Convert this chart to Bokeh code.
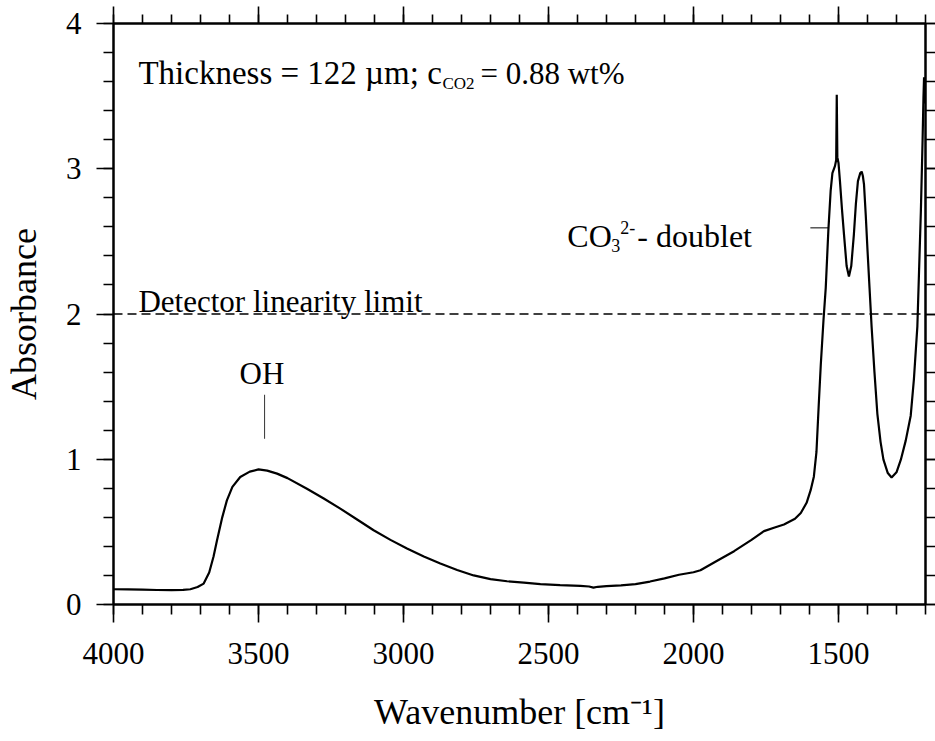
from bokeh.plotting import figure
from bokeh.models import (Range1d, LinearAxis, SingleIntervalTicker, Span, Label,
                          CustomJSTickFormatter)
from bokeh.embed import file_html
from bokeh.resources import INLINE

# FTIR absorbance spectrum (wavenumber in cm^-1, descending)
wavenumber = [4000, 3950, 3900, 3850, 3800, 3760, 3735, 3710, 3689, 3670,
              3655, 3643, 3625, 3609, 3590, 3563, 3530, 3500, 3470, 3436,
              3400, 3333, 3275, 3218, 3160, 3103, 3045, 2988, 2930, 2873,
              2815, 2758, 2700, 2643, 2585, 2528, 2460, 2390, 2360, 2345,
              2330, 2300, 2250, 2200, 2150, 2100, 2050, 2000, 1976, 1920,
              1860, 1800, 1757, 1720, 1688, 1650, 1630, 1610, 1596, 1585,
              1576, 1568, 1561, 1552, 1544, 1535, 1527, 1521, 1512, 1508,
              1506, 1504, 1500, 1495, 1488, 1481, 1472, 1464, 1456, 1447,
              1440, 1433, 1425, 1420, 1416, 1412, 1406, 1400, 1393, 1386,
              1376, 1366, 1355, 1345, 1330, 1317, 1300, 1285, 1268, 1251,
              1240, 1228, 1216, 1210, 1207, 1205, 1203, 1201]
absorbance = [0.105, 0.104, 0.102, 0.100, 0.099, 0.101, 0.105, 0.120, 0.144, 0.220,
              0.330, 0.442, 0.600, 0.717, 0.810, 0.878, 0.915, 0.930, 0.922, 0.901,
              0.870, 0.797, 0.730, 0.660, 0.585, 0.511, 0.445, 0.385, 0.330, 0.282,
              0.238, 0.200, 0.175, 0.160, 0.150, 0.140, 0.133, 0.128, 0.124, 0.116,
              0.122, 0.127, 0.132, 0.140, 0.158, 0.180, 0.205, 0.222, 0.236, 0.300,
              0.367, 0.445, 0.505, 0.530, 0.551, 0.590, 0.630, 0.700, 0.787, 0.880,
              1.050, 1.380, 1.654, 1.950, 2.180, 2.574, 2.850, 2.970, 3.020, 3.060,
              3.510, 3.080, 3.040, 2.915, 2.720, 2.547, 2.330, 2.258, 2.330, 2.547,
              2.760, 2.915, 2.970, 2.980, 2.950, 2.890, 2.680, 2.440, 2.180, 1.917,
              1.600, 1.313, 1.120, 0.997, 0.905, 0.874, 0.910, 0.997, 1.130, 1.300,
              1.550, 1.917, 2.705, 3.200, 3.490, 3.630, 3.450, 3.620]

x_major_step = 500
y_major_step = 1
linearity_limit = 2.0

FONT = "Liberation Serif"

p = figure(width=935, height=741,
           x_range=Range1d(4000, 1200), y_range=Range1d(0, 4),
           output_backend="svg", toolbar_location=None,
           min_border_left=113, min_border_right=10,
           min_border_top=23, min_border_bottom=137)
p.xgrid.visible = False
p.ygrid.visible = False
p.outline_line_color = "black"
p.outline_line_width = 2
p.background_fill_color = "white"
p.border_fill_color = "white"


def style_axis(ax, tick_out, minor_out, show_labels):
    ax.axis_line_color = "black"
    ax.axis_line_width = 2
    ax.major_tick_line_color = "black"
    ax.minor_tick_line_color = "black"
    ax.major_tick_line_width = 1.6
    ax.minor_tick_line_width = 1.6
    ax.major_tick_in = 0
    ax.minor_tick_in = 0
    ax.major_tick_out = tick_out
    ax.minor_tick_out = minor_out
    ax.major_label_text_font = FONT
    ax.major_label_text_color = "black"
    if show_labels:
        ax.major_label_text_font_size = "31px"
    else:
        ax.formatter = CustomJSTickFormatter(code="return ''")
        ax.major_label_text_font_size = "0px"
        ax.major_label_standoff = 0


bottom = p.xaxis[0]
bottom.ticker = SingleIntervalTicker(interval=x_major_step, num_minor_ticks=5)
style_axis(bottom, 18, 10, True)
bottom.major_label_standoff = 20
bottom.axis_label = "Wavenumber [cm\u207b\u00b9]"
bottom.axis_label_text_font = FONT
bottom.axis_label_text_font_size = "36px"
bottom.axis_label_text_font_style = "normal"
bottom.axis_label_text_color = "black"
bottom.axis_label_standoff = 25

left = p.yaxis[0]
left.ticker = SingleIntervalTicker(interval=y_major_step, num_minor_ticks=5)
style_axis(left, 17, 10, True)
left.major_label_standoff = 15
left.axis_label = "Absorbance"
left.axis_label_text_font = FONT
left.axis_label_text_font_size = "36px"
left.axis_label_text_font_style = "normal"
left.axis_label_text_color = "black"
left.axis_label_standoff = 19

top = LinearAxis(ticker=SingleIntervalTicker(interval=x_major_step, num_minor_ticks=5))
style_axis(top, 17, 9, False)
p.add_layout(top, "above")

right = LinearAxis(ticker=SingleIntervalTicker(interval=y_major_step, num_minor_ticks=5))
style_axis(right, 10, 10, False)
p.add_layout(right, "right")

# spectrum
p.line(wavenumber, absorbance, line_color="black", line_width=2.2)

# detector linearity limit
p.add_layout(Span(location=linearity_limit, dimension="width",
                  line_color="black", line_width=1.4, line_dash="9 5"))


def label(x, y, text, size, x_offset=0, align="left"):
    p.add_layout(Label(x=x, y=y, text=text, x_offset=x_offset,
                       text_font=FONT, text_font_size=size,
                       text_color="black", text_align=align,
                       text_baseline="alphabetic"))


# sample description (pieces placed side by side for the subscript)
label(3914, 3.658, "Thickness = 122 \u00b5m; c", "33px")
label(3914, 3.589, "CO2", "17px", x_offset=304)
label(3914, 3.658, "= 0.88 wt%", "31px", x_offset=342)

label(3914, 2.088, "Detector linearity limit", "31px")

# band assignments
label(3488, 1.590, "OH", "31px", align="center")
p.segment(x0=[3479], y0=[1.141], x1=[3479], y1=[1.444],
          line_color="#333333", line_width=1)

label(2435, 2.534, "CO", "32px")
label(2435, 2.472, "3", "18px", x_offset=44)
label(2435, 2.596, "2-", "18px", x_offset=53)
label(2435, 2.534, "- doublet", "32px", x_offset=70)
p.segment(x0=[1597], y0=[2.593], x1=[1536], y1=[2.593],
          line_color="black", line_width=1)

open("out.html", "w").write(file_html(p, INLINE))
